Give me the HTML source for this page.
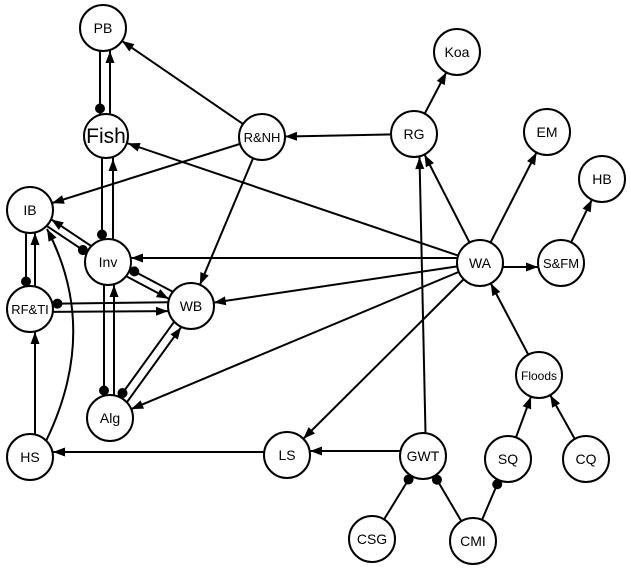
<!DOCTYPE html>
<html><head><meta charset="utf-8"><style>body{margin:0;background:#fff}svg{display:block}</style></head>
<body>
<svg width="631" height="569" viewBox="0 0 631 569" xmlns="http://www.w3.org/2000/svg">
<defs>
<marker id="a" markerUnits="userSpaceOnUse" viewBox="-40 -6 40 12" markerWidth="40" markerHeight="12" refX="0" refY="0" orient="auto"><path d="M-35,-4.5 L-23,0 L-35,4.5 z" fill="#000"/></marker>
<marker id="d" markerUnits="userSpaceOnUse" viewBox="-40 -6 40 12" markerWidth="40" markerHeight="12" refX="0" refY="0" orient="auto"><circle cx="-27.5" cy="0" r="5" fill="#000"/></marker>
<marker id="a0" markerUnits="userSpaceOnUse" viewBox="-14 -6 14 12" markerWidth="14" markerHeight="12" refX="0" refY="0" orient="auto"><path d="M-12,-4.5 L0,0 L-12,4.5 z" fill="#000"/></marker>
</defs>
<g stroke="#000" stroke-width="2" fill="none">
<line x1="100" y1="28" x2="100" y2="136" marker-end="url(#d)"/>
<line x1="110" y1="136" x2="110" y2="28" marker-end="url(#a)"/>
<line x1="262" y1="137" x2="103" y2="28" marker-end="url(#a)"/>
<line x1="262" y1="137" x2="30" y2="210" marker-end="url(#a)"/>
<line x1="262" y1="137" x2="191" y2="306" marker-end="url(#a)"/>
<line x1="480" y1="263" x2="106" y2="136" marker-end="url(#a)"/>
<line x1="414" y1="134" x2="262" y2="137" marker-end="url(#a)"/>
<line x1="102" y1="136" x2="102" y2="262" marker-end="url(#d)"/>
<line x1="113" y1="262" x2="113" y2="136" marker-end="url(#a)"/>
<line x1="110.2" y1="258.7" x2="32.2" y2="206.7" marker-end="url(#a)"/>
<line x1="27.8" y1="213.3" x2="105.8" y2="265.3" marker-end="url(#d)"/>
<line x1="26" y1="210" x2="26" y2="309" marker-end="url(#d)"/>
<line x1="35" y1="309" x2="35" y2="210" marker-end="url(#a)"/>
<path d="M46,441 Q100,330 47,229" marker-end="url(#a0)"/>
<line x1="35" y1="457" x2="35" y2="309" marker-end="url(#a)"/>
<line x1="480" y1="258" x2="108" y2="258" marker-end="url(#a)"/>
<line x1="193" y1="302.5" x2="110" y2="258.5" marker-end="url(#d)"/>
<line x1="106" y1="265.5" x2="189" y2="309.5" marker-end="url(#a)"/>
<line x1="191" y1="302" x2="30" y2="304" marker-end="url(#d)"/>
<line x1="30" y1="312" x2="191" y2="311" marker-end="url(#a)"/>
<line x1="104" y1="262" x2="104" y2="418" marker-end="url(#d)"/>
<line x1="114" y1="418" x2="114" y2="262" marker-end="url(#a)"/>
<line x1="187.4" y1="303.4" x2="106.4" y2="415.4" marker-end="url(#d)"/>
<line x1="113.6" y1="420.6" x2="194.6" y2="308.6" marker-end="url(#a)"/>
<line x1="480" y1="263" x2="191" y2="306" marker-end="url(#a)"/>
<line x1="480" y1="263" x2="110" y2="418" marker-end="url(#a)"/>
<line x1="480" y1="263" x2="287" y2="455" marker-end="url(#a)"/>
<line x1="287" y1="452" x2="30" y2="452" marker-end="url(#a)"/>
<line x1="423" y1="451" x2="287" y2="451" marker-end="url(#a)"/>
<line x1="426" y1="456" x2="419" y2="134" marker-end="url(#a)"/>
<line x1="480" y1="263" x2="414" y2="134" marker-end="url(#a)"/>
<line x1="414" y1="134" x2="457" y2="52" marker-end="url(#a)"/>
<line x1="480" y1="263" x2="547" y2="132" marker-end="url(#a)"/>
<line x1="480" y1="267" x2="561" y2="267" marker-end="url(#a)"/>
<line x1="561" y1="263" x2="602" y2="179" marker-end="url(#a)"/>
<line x1="539" y1="375" x2="480" y2="263" marker-end="url(#a)"/>
<line x1="508" y1="459" x2="539" y2="375" marker-end="url(#a)"/>
<line x1="586" y1="459" x2="539" y2="375" marker-end="url(#a)"/>
<line x1="372" y1="539" x2="423" y2="456" marker-end="url(#d)"/>
<line x1="473" y1="541" x2="423" y2="456" marker-end="url(#d)"/>
<line x1="473" y1="541" x2="508" y2="459" marker-end="url(#d)"/>
</g>
<g stroke="#000" stroke-width="2" fill="#fff">
<circle cx="103" cy="28" r="23"/><circle cx="106" cy="136" r="22"/><circle cx="262" cy="137" r="23"/>
<circle cx="414" cy="134" r="23"/><circle cx="457" cy="52" r="23"/><circle cx="547" cy="132" r="23"/>
<circle cx="602" cy="179" r="23"/><circle cx="30" cy="210" r="23"/><circle cx="108" cy="262" r="23"/>
<circle cx="480" cy="263" r="23"/><circle cx="561" cy="263" r="23"/><circle cx="30" cy="309" r="23"/>
<circle cx="191" cy="306" r="23"/><circle cx="539" cy="375" r="23"/><circle cx="110" cy="418" r="23"/>
<circle cx="30" cy="457" r="23"/><circle cx="287" cy="455" r="23"/><circle cx="423" cy="456" r="23"/>
<circle cx="508" cy="459" r="23"/><circle cx="586" cy="459" r="23"/><circle cx="372" cy="539" r="23"/>
<circle cx="473" cy="541" r="23"/>
</g>
<g font-family="Liberation Sans, sans-serif" font-size="14" text-anchor="middle" fill="#000">
<text x="103" y="33">PB</text><text x="106" y="143" font-size="21">Fish</text><text x="262" y="142" font-size="13">R&amp;NH</text>
<text x="414" y="139">RG</text><text x="457" y="57">Koa</text><text x="547" y="137">EM</text>
<text x="602" y="184">HB</text><text x="30" y="215">IB</text><text x="108" y="267">Inv</text>
<text x="480" y="268">WA</text><text x="561" y="268" font-size="13">S&amp;FM</text><text x="30" y="314" font-size="13">RF&amp;TI</text>
<text x="191" y="311">WB</text><text x="539" y="380" font-size="12">Floods</text><text x="110" y="423">Alg</text>
<text x="30" y="462">HS</text><text x="287" y="460">LS</text><text x="423" y="461">GWT</text>
<text x="508" y="464">SQ</text><text x="586" y="464">CQ</text><text x="372" y="544">CSG</text>
<text x="473" y="546">CMI</text>
</g>
</svg>
</body></html>
